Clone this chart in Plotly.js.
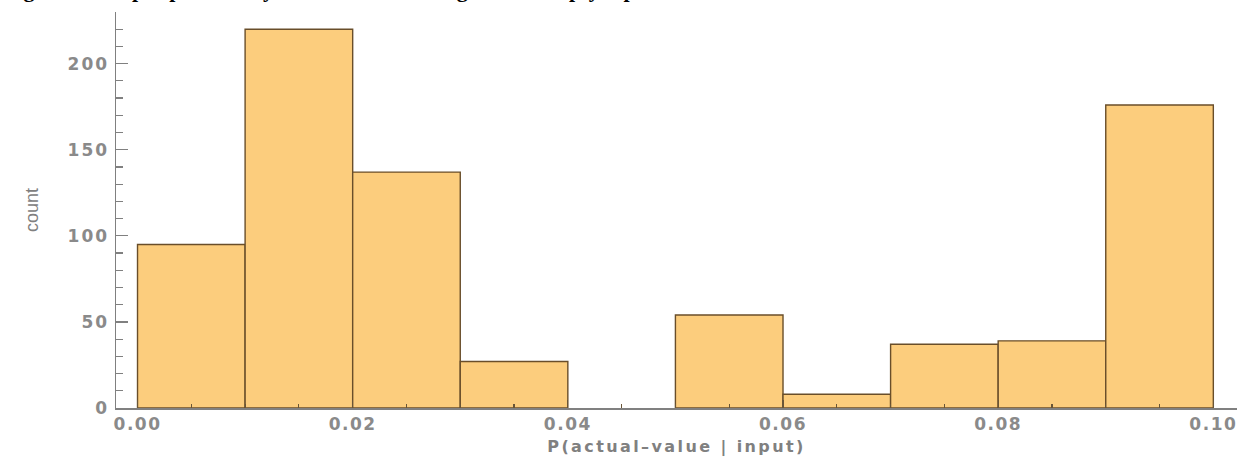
<!DOCTYPE html>
<html>
<head>
<meta charset="utf-8">
<script src="https://cdn.plot.ly/plotly-3.0.1.min.js"></script>
<style>
html,body{margin:0;padding:0;background:#fff;overflow:hidden;}
#wrap{position:relative;width:1252px;height:463px;overflow:hidden;}
#chart{width:1252px;height:463px;}
#caption{position:absolute;left:4px;top:-21px;white-space:nowrap;font-family:'Liberation Serif','Times New Roman',serif;font-weight:bold;font-size:22px;line-height:22px;color:#000;z-index:5;pointer-events:none;}
#chart .xtick text{letter-spacing:1.5px;}
#chart .ytick text{letter-spacing:2px;}
#chart .g-xtitle text{letter-spacing:2.4px;}
</style>
</head>
<body>
<div id="wrap">
<div id="caption"></div>
<div id="chart"></div>
</div>
<script>
// Histogram bins (left edges) and counts
const binStarts = [0.00, 0.01, 0.02, 0.03, 0.04, 0.05, 0.06, 0.07, 0.08, 0.09];
const binWidth = 0.01;
const counts = [95, 220, 137, 27, 0, 54, 8, 37, 39, 176];
const xTickVals = [0.00, 0.02, 0.04, 0.06, 0.08, 0.10];
const xTickText = ["0.00", "0.02", "0.04", "0.06", "0.08", "0.10"];
const yTickVals = [0, 50, 100, 150, 200];
const captionText = "Figure 4: Output probability of the actual value given an empty input to the trained model";

document.getElementById('caption').textContent = captionText;

const centers = binStarts.map(s => s + binWidth / 2);
const lineWidths = counts.map(c => c > 0 ? 1.4 : 0);

const trace = {
  type: 'bar',
  x: centers,
  y: counts,
  width: binStarts.map(() => binWidth),
  marker: {
    color: 'rgb(252, 205, 125)',
    line: { color: 'rgb(105, 78, 42)', width: lineWidths }
  },
  hoverinfo: 'x+y'
};

const gray = 'rgb(138,138,138)';
const tickFont = { family: 'DejaVu Sans, Verdana, sans-serif', size: 17, color: gray, weight: 'bold' };
const layout = {
  width: 1252,
  height: 463,
  margin: { l: 116, r: 15, t: 12, b: 55 },
  paper_bgcolor: '#fff',
  plot_bgcolor: '#fff',
  showlegend: false,
  bargap: 0,
  xaxis: {
    range: [-0.002, 0.1022],
    showgrid: false,
    zeroline: false,
    showline: true,
    linecolor: 'rgb(128,128,128)',
    linewidth: 1.5,
    ticks: 'inside',
    ticklen: 8,
    tickwidth: 1.2,
    tickcolor: 'rgb(105, 85, 55)',
    tickvals: xTickVals,
    ticktext: xTickText,
    tickfont: tickFont,
    minor: { dtick: 0.005, ticks: 'inside', ticklen: 4, tickwidth: 1.2, tickcolor: 'rgb(105, 85, 55)', showgrid: false },
    title: { text: 'P(actual\u2013value | input)', font: { family: 'DejaVu Sans, Verdana, sans-serif', size: 16, color: 'rgb(128,128,128)', weight: 'bold' }, standoff: 8 },
    fixedrange: true
  },
  yaxis: {
    range: [0, 230],
    showgrid: false,
    zeroline: false,
    showline: true,
    linecolor: 'rgb(128,128,128)',
    linewidth: 1.5,
    ticks: 'inside',
    ticklen: 12,
    tickwidth: 1.2,
    tickcolor: 'rgb(128,128,128)',
    tickvals: yTickVals,
    ticklabelstandoff: 2,
    tickfont: tickFont,
    minor: { dtick: 10, ticks: 'inside', ticklen: 7, tickwidth: 1.2, tickcolor: 'rgb(128,128,128)', showgrid: false },
    title: { text: 'count', font: { family: 'Liberation Sans, Arial, sans-serif', size: 18, color: 'rgb(128,128,128)' }, standoff: 30 },
    fixedrange: true
  }
};

Plotly.newPlot('chart', [trace], layout, { displayModeBar: false, staticPlot: true });
</script>
</body>
</html>
